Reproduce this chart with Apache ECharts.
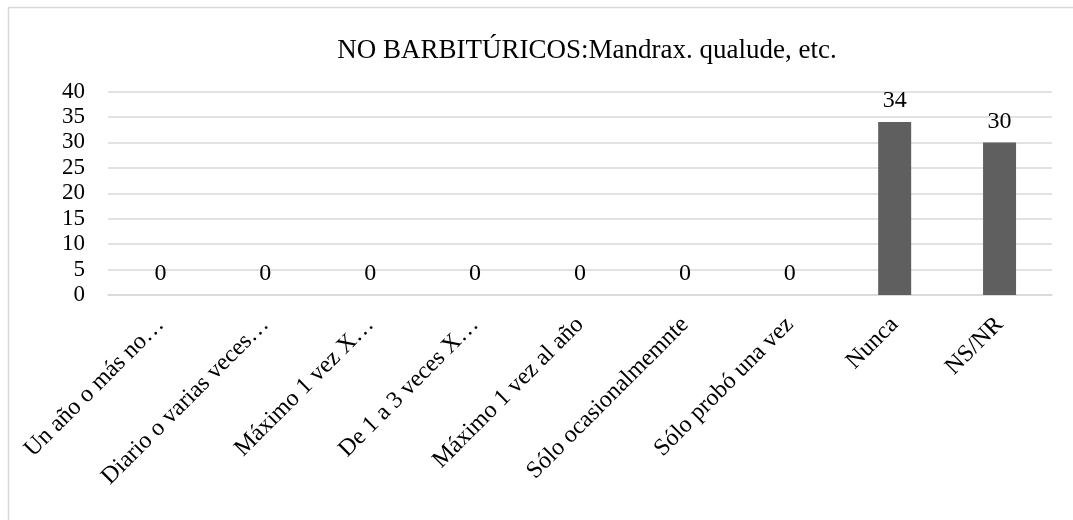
<!DOCTYPE html>
<html><head><meta charset="utf-8">
<script src="https://cdn.jsdelivr.net/npm/echarts@6/dist/echarts.min.js"></script>
<style>html,body{margin:0;padding:0;background:#fff}#c{width:1073px;height:520px}</style>
</head><body><div id="c"></div>
<script>
const titleText = 'NO BARBITÚRICOS:Mandrax. qualude, etc.';
const categories = ['Un año o más no…','Diario o varias veces…','Máximo 1 vez X…','De 1 a 3 veces X…','Máximo 1 vez al año','Sólo ocasionalmemnte','Sólo probó una vez','Nunca','NS/NR'];
const values = [0,0,0,0,0,0,0,34,30];
const yTicks = {min:0, max:40, interval:5};
const font = '"Liberation Serif", "Times New Roman", serif';
const chart = echarts.init(document.getElementById('c'), null, {renderer:'canvas'});
chart.setOption({
  animation:false,
  backgroundColor:'#fff',
  graphic:[{type:'rect', shape:{x:8.5,y:7.5,width:1100,height:600}, style:{fill:'none', stroke:'#d9d9d9', lineWidth:1.5}, silent:true}],
  title:{text:titleText, left:582, top:32, textAlign:'center', textStyle:{fontFamily:font, fontSize:27, fontWeight:'normal', color:'#000'}},
  grid:{left:108, right:21, top:91.5, bottom:225, containLabel:false},
  xAxis:{type:'category', data:categories,
    axisLine:{lineStyle:{color:'#d9d9d9', width:1.5}}, axisTick:{show:false},
    axisLabel:{rotate:45, interval:0, margin:26, fontFamily:font, fontSize:24, color:'#000'}},
  yAxis:{type:'value', min:yTicks.min, max:yTicks.max, interval:yTicks.interval,
    axisLine:{show:false}, axisTick:{show:false},
    splitLine:{lineStyle:{color:'#d9d9d9', width:1.5}},
    axisLabel:{margin:23, fontFamily:font, fontSize:23, color:'#000'}},
  series:[{type:'bar', data:values, barWidth:33, itemStyle:{color:'#5f5f5f'},
    label:{show:true, position:'top', distance:9, fontFamily:font, fontSize:24, color:'#000'}}]
});
</script></body></html>
